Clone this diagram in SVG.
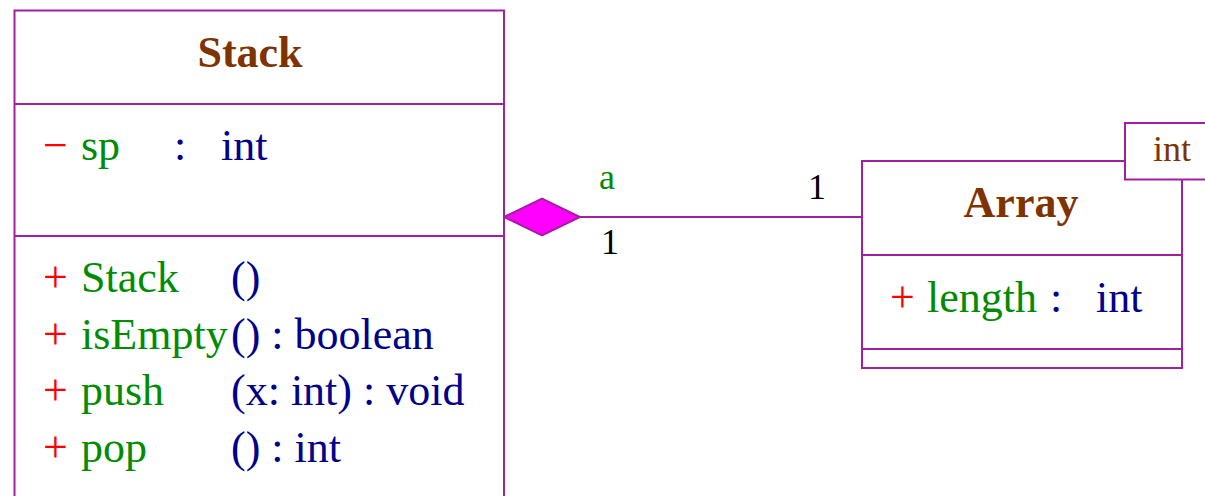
<svg xmlns="http://www.w3.org/2000/svg" width="1205" height="496" viewBox="0 0 1205 496">
<style>
.box{fill:#ffffff;stroke:#a020a0;stroke-width:2}
.div{stroke:#a020a0;stroke-width:2}
text{font-family:"Liberation Serif","Times New Roman",serif;font-size:44px}
.title{font-weight:bold;font-size:44px;fill:#7f3300;text-anchor:middle}
.vis{fill:#ff0000}
.name{fill:#008c00}
.type{fill:#00008b}
.lbl{font-size:36px}
.tmpl{font-size:36px;fill:#7f3300}
</style>
<g id="connectors">
<line x1="580" y1="217" x2="862" y2="217" class="div"/>
<polygon points="504,217 542,198.5 580,217 542,235.5" fill="#ff00ff" stroke="#a020a0" stroke-width="2"/>
<text x="599" y="189" class="lbl name">a</text>
<text x="808" y="199" class="lbl" fill="#000000">1</text>
<text x="601" y="254" class="lbl" fill="#000000">1</text>
</g>
<g id="stack">
<rect x="14.5" y="10.5" width="489.5" height="500" class="box"/>
<line x1="14.5" y1="104" x2="504" y2="104" class="div"/>
<line x1="14.5" y1="236" x2="504" y2="236" class="div"/>
<text x="250" y="67" class="title">Stack</text>
<text x="43" y="160" class="vis">−</text>
<text x="81" y="160" class="name">sp</text>
<text x="174" y="160" class="type">:</text>
<text x="221" y="160" class="type">int</text>
<text x="43" y="292" class="vis">+</text>
<text x="81" y="292" class="name">Stack</text>
<text x="231" y="292" class="type">()</text>
<text x="43" y="348.5" class="vis">+</text>
<text x="81" y="348.5" class="name">isEmpty</text>
<text x="231" y="348.5" class="type">() : boolean</text>
<text x="43" y="405" class="vis">+</text>
<text x="81" y="405" class="name">push</text>
<text x="231" y="405" class="type">(x: int) : void</text>
<text x="43" y="461.5" class="vis">+</text>
<text x="81" y="461.5" class="name">pop</text>
<text x="231" y="461.5" class="type">() : int</text>
</g>
<g id="array">
<rect x="862" y="161" width="320" height="207" class="box"/>
<line x1="862" y1="255" x2="1182" y2="255" class="div"/>
<line x1="862" y1="349" x2="1182" y2="349" class="div"/>
<text x="1021" y="217" class="title">Array</text>
<text x="890" y="312" class="vis">+</text>
<text x="927" y="312" class="name">length</text>
<text x="1050" y="312" class="type">:</text>
<text x="1096" y="312" class="type">int</text>
<rect x="1125" y="123" width="90" height="56.5" class="box"/>
<text x="1153" y="161" class="tmpl">int</text>
</g>
</svg>
